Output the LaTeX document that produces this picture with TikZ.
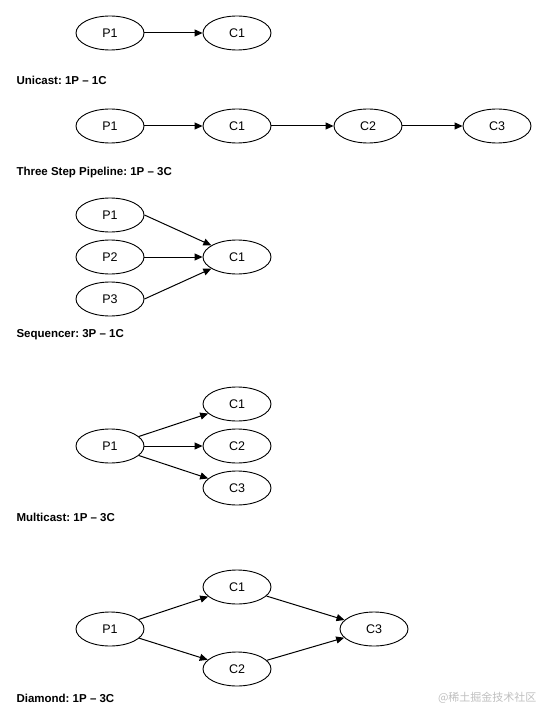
\documentclass[tikz,border=0pt]{standalone}
\usepackage{fontspec}
\setmainfont{Liberation Sans}
\newfontfamily\cjk{Noto Sans CJK SC}
\usetikzlibrary{positioning, arrows.meta, shapes.geometric}
\frenchspacing

\begin{document}
\begin{tikzpicture}[x=1pt, y=-1pt,
    proc/.style={ellipse, draw, line width=0.9pt, minimum width=68pt, minimum height=34pt, inner sep=0pt, font=\fontsize{12.5}{14}\selectfont},
    flow/.style={-{Triangle[length=8pt, width=7pt]}, line width=1pt},
    caption/.style={anchor=west, font=\fontsize{11.5}{13}\selectfont\bfseries}]
  \useasboundingbox (0,0) rectangle (553,722);
  % unicast
  \node[proc] (uP1) at (110,33) {P1};
  \node[proc] (uC1) at (237,33) {C1};
  \draw[flow] (uP1) -- (uC1);
  \node[caption] (uCap) at (13,80) {Unicast: 1P -- 1C};
  % pipeline
  \node[proc] (tP1) at (110,126) {P1};
  \node[proc] (tC1) at (237,126) {C1};
  \node[proc] (tC2) at (368,126) {C2};
  \node[proc] (tC3) at (497,126) {C3};
  \draw[flow] (tP1) -- (tC1);
  \draw[flow] (tC1) -- (tC2);
  \draw[flow] (tC2) -- (tC3);
  \node[caption] (tCap) at (13,173) {Three Step Pipeline: 1P -- 3C};
  % sequencer
  \node[proc] (sP1) at (110,215) {P1};
  \node[proc] (sP2) at (110,257) {P2};
  \node[proc] (sP3) at (110,299) {P3};
  \node[proc] (sC1) at (237,257) {C1};
  \foreach \p in {sP1,sP2,sP3} \draw[flow] (\p.east) -- (sC1);
  \node[caption] (sCap) at (13,335) {Sequencer: 3P -- 1C};
  % multicast
  \node[proc] (mP1) at (110,446) {P1};
  \node[proc] (mC1) at (237,404) {C1};
  \node[proc] (mC2) at (237,446) {C2};
  \node[proc] (mC3) at (237,488) {C3};
  \foreach \c in {mC1,mC2,mC3} \draw[flow] (mP1) -- (\c);
  \node[caption] (mCap) at (13,517) {Multicast: 1P -- 3C};
  % diamond
  \node[proc] (dP1) at (110,629) {P1};
  \node[proc] (dC1) at (237,587) {C1};
  \node[proc] (dC2) at (237,669) {C2};
  \node[proc] (dC3) at (374,629) {C3};
  \draw[flow] (dP1) -- (dC1);
  \draw[flow] (dP1) -- (dC2);
  \draw[flow] (dC1) -- (dC3);
  \draw[flow] (dC2) -- (dC3);
  \node[caption] (dCap) at (13,698) {Diamond: 1P -- 3C};
  \node[anchor=east, text=black!25, font=\cjk\fontsize{11}{13}\selectfont] (mark) at (540,698) {@稀土掘金技术社区};
\end{tikzpicture}
\end{document}
